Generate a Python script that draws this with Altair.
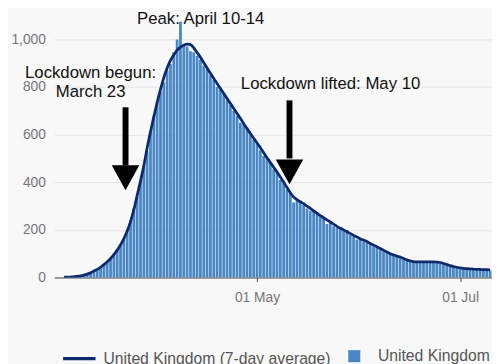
import altair as alt
import pandas as pd

# ---- data (UK daily deaths, Mar 1 - Jul 10 2020) ----
avg_mar = [None, None, None, 1, 1, 2, 3, 5, 7, 10, 14, 20, 27, 34, 43, 54, 66, 80, 96, 115,
           137, 163, 195, 235, 285, 345, 405, 470, 545, 612, 675]
bar_mar = [0, 1, 0, 1, 2, 3, 3, 5, 8, 10, 15, 21, 28, 36, 44, 55, 66, 80, 98, 118,
           140, 160, 200, 240, 290, 340, 410, 470, 530, 610, 680]
avg_apr = [735, 790, 840, 880, 912, 935, 955, 968, 976, 980, 978, 965, 945, 925, 902,
           880, 858, 836, 815, 794, 773, 752, 731, 710, 689, 668, 646, 625, 605, 585]
bar_apr = [740, 780, 820, 870, 897, 946, 1000, 1074, 975, 970, 950, 946, 930, 915, 890,
           875, 850, 830, 800, 790, 770, 745, 725, 700, 680, 650, 645, 630, 600, 580]
avg_may = [565, 545, 524, 503, 483, 463, 443, 422, 400, 378, 356, 338, 327, 318, 310,
           300, 290, 280, 270, 260, 251, 242, 233, 224, 215, 207, 200, 192, 185, 177, 170]
bar_may = [560, 535, 510, 500, 480, 455, 440, 410, 395, 370, 355, 315, 325, 320, 305,
           290, 280, 282, 268, 255, 248, 225, 230, 215, 210, 212, 195, 200, 178, 172, 160]
avg_jun = [163, 157, 151, 143, 136, 129, 122, 115, 107, 100, 95, 90, 86, 80, 74,
           70, 67, 66, 66, 66, 66, 66, 66, 65, 63, 59, 54, 50, 46, 43]
bar_jun = [165, 150, 148, 140, 130, 125, 118, 110, 104, 98, 92, 86, 82, 75, 70,
           68, 66, 63, 64, 62, 65, 68, 62, 60, 58, 55, 50, 46, 44, 41]
avg_jul = [40, 38, 37, 36, 35, 34, 34, 33, 33, 32]
bar_jul = [38, 36, 35, 33, 33, 31, 32, 30, 30, 29]

dates = pd.date_range("2020-03-01", "2020-07-10", freq="D").strftime("%Y-%m-%dT00:00:00")
avg = avg_mar + avg_apr + avg_may + avg_jun + avg_jul
bars = bar_mar + bar_apr + bar_may + bar_jun + bar_jul

df = pd.DataFrame({"date": list(dates), "deaths": bars, "avg": avg})

# annotations
arrow_at = ["2020-03-22T12:00:00", "2020-05-10T18:00:00"]
arrow_top = [715, 744]
arrow_base = [471, 500]
arrow_head = [419, 444]
arrows = pd.DataFrame({"at": arrow_at, "top": arrow_top, "base": arrow_base, "head": arrow_head})

label_at = ["2020-04-14T02:00:00", "2020-03-12T00:00:00", "2020-05-23T02:00:00"]
label_y = [1066, 839, 793]
label_text = ["Peak: April 10-14", "Lockdown begun:\nMarch 23", "Lockdown lifted: May 10"]
labels = pd.DataFrame({"at": label_at, "y": label_y, "text": label_text})

LINE_LABEL = "United Kingdom (7-day average)"
BAR_LABEL = "United Kingdom"
NAVY = "#0c2a6c"
BLUE = "#4a87c5"
FONT = "Liberation Sans"

x_scale = alt.Scale(domain=[alt.DateTime(year=2020, month=3, date=1, hours=2),
                            alt.DateTime(year=2020, month=7, date=10, hours=14)])
y_scale = alt.Scale(domain=[0, 1120], nice=False)

x_axis = alt.Axis(values=[alt.DateTime(year=2020, month=5, date=1),
                          alt.DateTime(year=2020, month=7, date=1)],
                  format="%d %b", labelColor="#777", labelFontSize=14, labelFont=FONT,
                  tickSize=4, tickColor="#444", domainColor="#444", grid=False,
                  labelPadding=9, title=None)
y_axis = alt.Axis(values=[0, 200, 400, 600, 800, 1000], format=",d", labelColor="#777",
                  labelFontSize=14, labelFont=FONT, ticks=False, domain=False,
                  gridColor="#e4e4e4", gridWidth=1, labelPadding=9, title=None)

bar_layer = alt.Chart(df).transform_calculate(
    x0="time(toDate(datum.date)) - 36000000",
    x1="time(toDate(datum.date)) + 36000000",
    series="'" + BAR_LABEL + "'",
).mark_bar(clip=True).encode(
    x=alt.X("x0:T", scale=x_scale, axis=x_axis),
    x2=alt.X2("x1"),
    y=alt.Y("deaths:Q", scale=y_scale, axis=y_axis),
    y2=alt.datum(0),
    color=alt.Color("series:N", scale=alt.Scale(domain=[BAR_LABEL], range=[BLUE]),
                    legend=alt.Legend(orient="none", legendX=297, legendY=343,
                                      symbolType="square", symbolSize=150, title=None,
                                      labelFontSize=16, labelColor="#555", labelFont=FONT,
                                      padding=0, labelOffset=16, symbolStrokeWidth=0,
                                      labelLimit=400)),
)

line_layer = alt.Chart(df).transform_calculate(
    series="'" + LINE_LABEL + "'"
).mark_line(strokeWidth=2.8, interpolate="monotone", clip=True).encode(
    x=alt.X("date:T", scale=x_scale),
    y=alt.Y("avg:Q", scale=y_scale),
    color=alt.Color("series:N", scale=alt.Scale(domain=[LINE_LABEL], range=[NAVY]),
                    legend=alt.Legend(orient="none", legendX=7, legendY=335,
                                      symbolType="stroke", symbolSize=1089,
                                      symbolStrokeWidth=3.5, title=None,
                                      labelFontSize=16, labelColor="#555", labelFont=FONT,
                                      padding=0, labelOffset=6, labelLimit=400)),
)

shafts = alt.Chart(arrows).mark_rule(strokeWidth=6, color="black").encode(
    x=alt.X("at:T", scale=x_scale), y=alt.Y("top:Q", scale=y_scale), y2="base:Q"
)
heads = alt.Chart(arrows).mark_point(
    shape="M-1,-0.9L1,-0.9L0,0.9Z", filled=True, size=784, color="black",
    opacity=1, strokeWidth=0
).encode(x=alt.X("at:T", scale=x_scale), y=alt.Y("head:Q", scale=y_scale))

texts = alt.Chart(labels).mark_text(
    font=FONT, fontSize=17, color="#111", align="center", baseline="alphabetic",
    lineBreak="\n", lineHeight=20
).encode(x=alt.X("at:T", scale=x_scale), y=alt.Y("y:Q", scale=y_scale), text="text:N")

chart = alt.layer(bar_layer, line_layer, shafts, heads, texts).resolve_scale(
    color="independent"
).properties(
    width=445, height=271,
    padding={"left": 47, "top": 0, "right": 0, "bottom": 85},
    autosize=alt.AutoSizeParams(type="none"),
    background="#f8f8f8",
).configure_view(stroke=None)

chart.save("out.html", embed_options={"renderer": "svg", "actions": False})
